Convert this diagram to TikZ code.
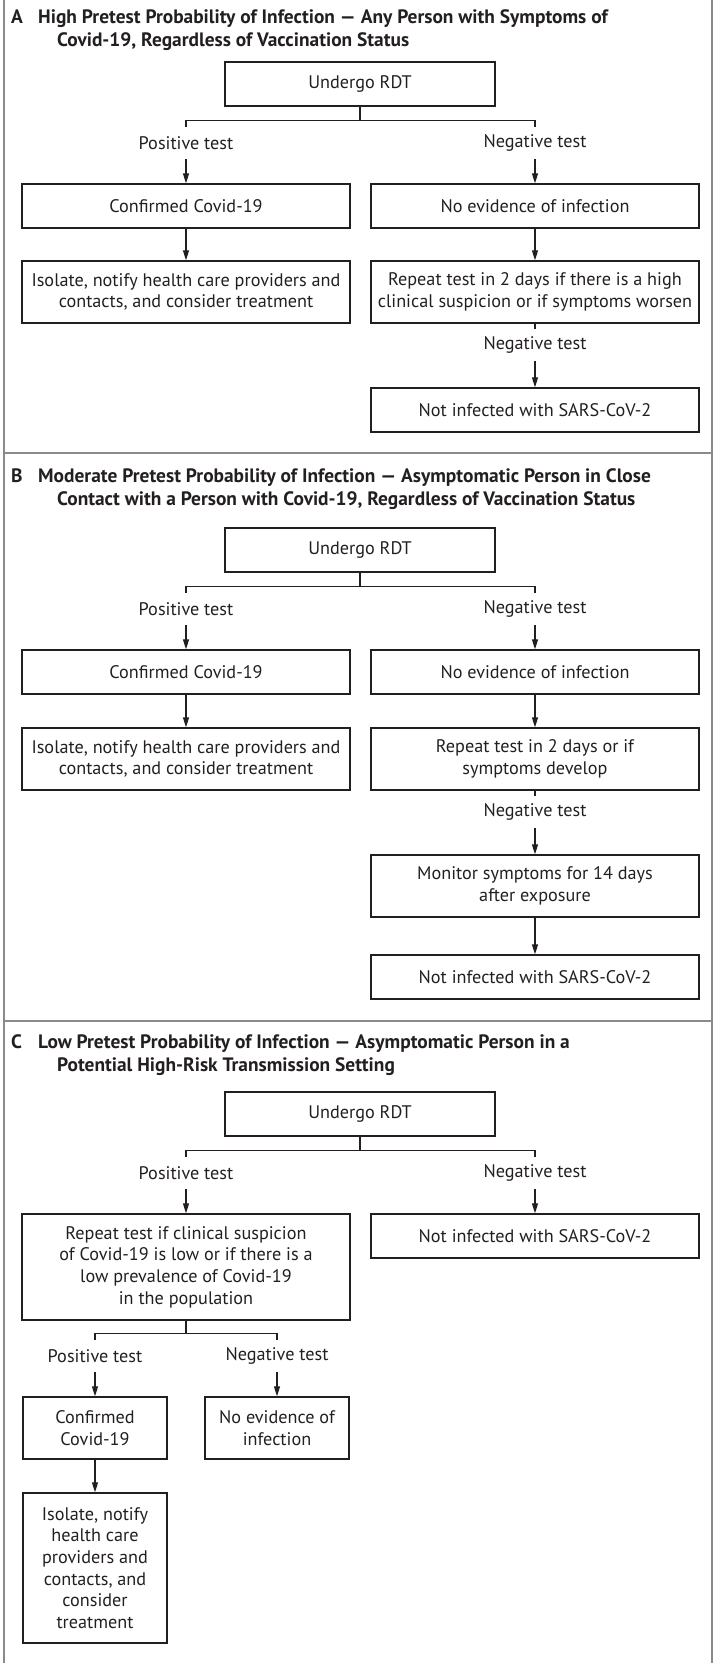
\documentclass[tikz,border=0pt]{standalone}
\usepackage{fontspec}
\setmainfont{PT Sans}
\usetikzlibrary{arrows.meta}
\definecolor{ink}{HTML}{231F20}
\definecolor{framec}{HTML}{8A8A8A}
\tikzset{
 box/.style={draw=ink, line width=1.3pt, minimum height=44pt, inner sep=0pt, align=center, text=ink, font=\fontsize{18.2}{21.7}\selectfont},
 wbox/.style={box, minimum width=328pt},
 nbox/.style={box, minimum width=144pt},
 ubox/.style={box, minimum width=270pt},
 lbl/.style={inner sep=0pt, minimum height=32pt, text=ink, font=\fontsize{18.2}{21.7}\selectfont},
 conn/.style={draw=ink, line width=1.1pt},
 arr/.style={conn, -{Triangle[length=10pt,width=6pt]}},
 ttl/.style={anchor=west, inner sep=0pt, text=ink, text height=13pt, text depth=4pt, font=\bfseries\fontsize{19.4}{23}\selectfont},
 panel/.style={draw=framec, line width=2pt},
}
\begin{document}
\begin{tikzpicture}[x=1pt,y=-1pt]
\useasboundingbox (0,0) rectangle (715,1663);
% frame
\draw[panel] (4,0) -- (4,1663);
\draw[panel] (712,0) -- (712,1663);
\draw[panel] (4,453) -- (712,453);
\draw[panel] (4,1021) -- (712,1021);

% ---------- Panel A ----------
\node[ttl] (tA) at (11,19) {A};
\node[ttl] (tA1) at (38,19) {High Pretest Probability of Infection — Any Person with Symptoms of};
\node[ttl] (tA2) at (57,42) {Covid-19, Regardless of Vaccination Status};
\node[ubox] (uA) at (360,84) {Undergo RDT};
\node[lbl] (plA) at (186,143) {Positive test};
\node[lbl] (nlA) at (535,143) {Negative test};
\node[wbox] (cA) at (186,206) {Confirmed Covid-19};
\node[wbox] (neA) at (535,206) {No evidence of infection};
\node[wbox, minimum height=62pt] (isA) at (186,292) {Isolate, notify health care providers and\\contacts, and consider treatment};
\node[wbox, minimum height=62pt] (rpA) at (535,292) {Repeat test in 2 days if there is a high\\clinical suspicion or if symptoms worsen};
\node[lbl] (nl2A) at (535,345) {Negative test};
\node[wbox] (niA) at (535,410) {Not infected with SARS-CoV-2};
\draw[conn] (uA.south) -- ++(0,14) coordinate (bA);
\draw[conn] (plA.north) |- (bA) -| (nlA.north);
\draw[arr] (plA.south) -- (cA.north);
\draw[arr] (nlA.south) -- (neA.north);
\draw[arr] (cA.south) -- (isA.north);
\draw[arr] (neA.south) -- (rpA.north);
\draw[conn] (rpA.south) -- (nl2A.north);
\draw[arr] (nl2A.south) -- (niA.north);

% ---------- Panel B ----------
\node[ttl] (tB) at (11,478) {B};
\node[ttl] (tB1) at (38,478) {Moderate Pretest Probability of Infection — Asymptomatic Person in Close};
\node[ttl] (tB2) at (57,501) {Contact with a Person with Covid-19, Regardless of Vaccination Status};
\node[ubox] (uB) at (360,550) {Undergo RDT};
\node[lbl] (plB) at (186,609) {Positive test};
\node[lbl] (nlB) at (535,609) {Negative test};
\node[wbox] (cB) at (186,672) {Confirmed Covid-19};
\node[wbox] (neB) at (535,672) {No evidence of infection};
\node[wbox, minimum height=62pt] (isB) at (186,759) {Isolate, notify health care providers and\\contacts, and consider treatment};
\node[wbox, minimum height=62pt] (rpB) at (535,759) {Repeat test in 2 days or if\\symptoms develop};
\node[lbl] (nl2B) at (535,812) {Negative test};
\node[wbox, minimum height=62pt] (moB) at (535,886) {Monitor symptoms for 14 days\\after exposure};
\node[wbox] (niB) at (535,977) {Not infected with SARS-CoV-2};
\draw[conn] (uB.south) -- ++(0,14) coordinate (bB);
\draw[conn] (plB.north) |- (bB) -| (nlB.north);
\draw[arr] (plB.south) -- (cB.north);
\draw[arr] (nlB.south) -- (neB.north);
\draw[arr] (cB.south) -- (isB.north);
\draw[arr] (neB.south) -- (rpB.north);
\draw[conn] (rpB.south) -- (nl2B.north);
\draw[arr] (nl2B.south) -- (moB.north);
\draw[arr] (moB.south) -- (niB.north);

% ---------- Panel C ----------
\node[ttl] (tC) at (11,1044) {C};
\node[ttl] (tC1) at (38,1044) {Low Pretest Probability of Infection — Asymptomatic Person in a};
\node[ttl] (tC2) at (57,1067) {Potential High-Risk Transmission Setting};
\node[ubox] (uC) at (360,1114) {Undergo RDT};
\node[lbl] (plC) at (186,1173) {Positive test};
\node[lbl] (nlC) at (535,1173) {Negative test};
\node[wbox, minimum height=106pt] (rpC) at (186,1267) {Repeat test if clinical suspicion\\of Covid-19 is low or if there is a\\low prevalence of Covid-19\\in the population};
\node[wbox] (niC) at (535,1236) {Not infected with SARS-CoV-2};
\node[lbl] (plC2) at (95,1356) {Positive test};
\node[lbl] (nlC2) at (277,1356) {Negative test};
\node[nbox, minimum height=62pt] (cC) at (95,1428) {Confirmed\\Covid-19};
\node[nbox, minimum height=62pt] (neC) at (277,1428) {No evidence of\\infection};
\node[nbox, minimum height=150pt] (isC) at (95,1568) {Isolate, notify\\health care\\providers and\\contacts, and\\consider\\treatment};
\draw[conn] (uC.south) -- ++(0,14) coordinate (bC);
\draw[conn] (plC.north) |- (bC) -| (nlC.north);
\draw[arr] (plC.south) -- (rpC.north);
\draw[arr] (nlC.south) -- (niC.north);
\draw[conn] (rpC.south) -- ++(0,13) coordinate (bC2);
\draw[conn] (plC2.north) |- (bC2) -| (nlC2.north);
\draw[arr] (plC2.south) -- (cC.north);
\draw[arr] (nlC2.south) -- (neC.north);
\draw[arr] (cC.south) -- (isC.north);
\end{tikzpicture}
\end{document}
